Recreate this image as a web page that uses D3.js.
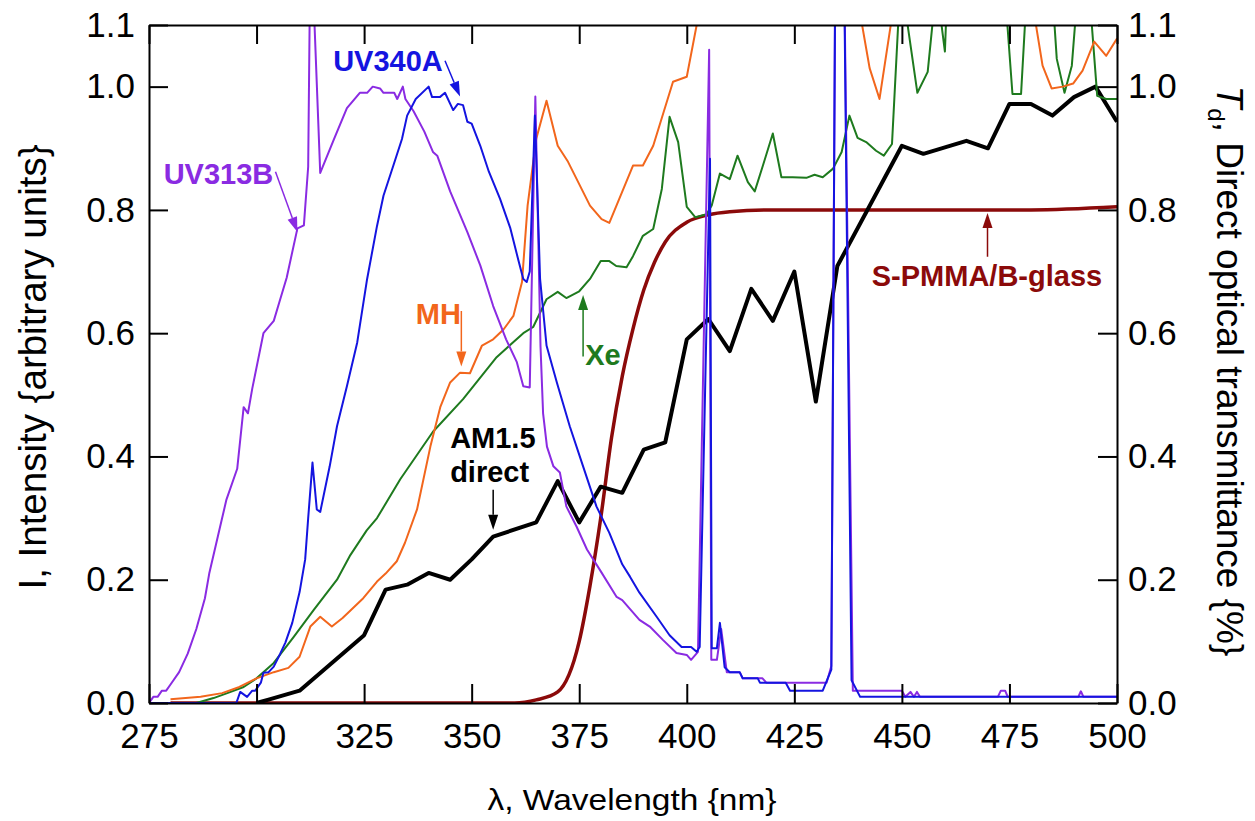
<!DOCTYPE html>
<head>
    <meta charset="utf-8">
    <script src="https://d3js.org/d3.v7.min.js"></script>
    <style>
        body { margin: 0; background: #fff; }
        text { font-family: "Liberation Sans", Arial, sans-serif; }
    </style>
</head>

<body>
    <script>
        ////////////// Data (wavelength nm, value) //////////////

        const uv313b = [[275,0],[276,0.01],[277,0.01],[278,0.02],[279,0.02],[280,0.03],[282,0.05],[284,0.08],
            [286,0.12],[288,0.17],[289,0.21],[291,0.27],[292,0.30],[293,0.33],[295.5,0.38],[297,0.48],[298,0.47],
            [299,0.51],[301.6,0.60],[304,0.62],[305.5,0.655],[307,0.69],[309.5,0.77],[311,0.775],[312,0.87],
            [312.4,1.15],[313.2,1.15],[314.8,0.86],[318,0.915],[321,0.965],[324,0.99],[325.7,0.99],[327,1.0],
            [328.7,0.997],[329.5,0.99],[332,0.99],[332.7,0.98],[334,1.0],[334.6,0.98],[336.5,0.96],[339,0.927],
            [341,0.894],[342,0.888],[345,0.83],[349,0.764],[352,0.71],[355,0.644],[358,0.59],[360.5,0.553],
            [362,0.514],[363.5,0.512],[364.8,0.984],[366,0.579],[366.6,0.47],[367.5,0.416],[369,0.384],
            [370.5,0.374],[372,0.319],[374.4,0.286],[376.8,0.249],[379.8,0.216],[383.7,0.172],[385,0.167],
            [389,0.135],[391.4,0.124],[394.5,0.102],[397.6,0.081],[400,0.078],[401,0.07],[402.6,0.083],
            [405.2,1.06],[405.7,0.07],[407,0.07],[408,0.12],[409.3,0.05],[412.3,0.05],[413,0.04],[417.6,0.04],
            [418.5,0.033],[432.5,0.033],[433.6,0.06],[434.6,1.3],[436.4,1.3],[438.6,0.02],[450,0.02],[450.8,0.01],
            [452,0.018],[452.8,0.01],[453.5,0.018],[454.2,0.01],[472.3,0.01],[473,0.02],[474,0.02],[474.6,0.01],
            [491,0.01],[491.6,0.019],[492.2,0.01],[500,0.01]]

        const uv340a = [[275,0],[295.3,0],[296.2,0.018],[297.8,0.01],[299,0.02],[299.7,0.02],[301,0.033],
            [301.6,0.049],[302.8,0.05],[304,0.059],[305.5,0.08],[306.7,0.098],[308.3,0.13],[310,0.18],[311.3,0.233],
            [312,0.30],[313,0.39],[314,0.314],[314.8,0.31],[317,0.384],[318.7,0.449],[321,0.514],[323.4,0.585],
            [325.7,0.688],[328,0.774],[329.5,0.823],[331.8,0.872],[333.8,0.915],[335,0.953],[337,0.98],[340,1.0],
            [340.8,0.983],[342.6,0.983],[343.8,0.99],[345.7,0.962],[346.8,0.972],[348,0.97],[349,0.943],[350,0.94],
            [352,0.904],[354,0.862],[356.6,0.818],[359,0.77],[360.8,0.72],[362,0.688],[362.8,0.683],[363.5,0.70],
            [364.7,0.953],[365.9,0.688],[367.4,0.58],[369.8,0.52],[372.8,0.449],[375.9,0.384],[379,0.319],
            [382,0.276],[385,0.225],[386.8,0.205],[389,0.179],[393,0.14],[396,0.11],[398.8,0.091],[401,0.091],
            [402.3,0.083],[403,0.091],[405.4,0.883],[405.8,0.089],[407,0.089],[407.7,0.13],[408.8,0.058],[410,0.05],
            [412.3,0.05],[413,0.04],[416.5,0.04],[417,0.033],[423,0.033],[424,0.02],[431.6,0.02],[433.6,0.054],
            [434.6,1.3],[436.4,1.3],[438.3,0.037],[440.3,0.01],[500,0.01]]

        const mh = [[280,0.006],[287,0.01],[292,0.016],[296,0.026],[300,0.04],[304,0.05],[307.4,0.057],[310,0.075],
            [312.5,0.124],[314.8,0.14],[317.5,0.124],[320,0.138],[324.8,0.17],[328,0.197],[330,0.21],[332.6,0.23],
            [334.5,0.26],[337.3,0.314],[340.4,0.416],[342.7,0.48],[345,0.52],[347.3,0.536],[349.6,0.535],
            [352.4,0.58],[355,0.59],[357.4,0.606],[359.7,0.628],[361.7,0.683],[363,0.807],[365,0.915],[367.4,0.977],
            [370,0.904],[372.4,0.878],[377.5,0.807],[380.2,0.785],[382,0.779],[387.5,0.872],[389.8,0.872],
            [392.2,0.904],[396.8,1.008],[400,1.016],[402.3,1.1],[404,1.3],[410,1.4],[430,1.5],[439.5,1.15],
            [442.5,1.03],[444.8,0.98],[448.5,1.15],[460,1.4],[475,1.3],[480,1.15],[482.7,1.034],[484.8,0.997],
            [487.4,1.0],[489.8,1.005],[492,1.026],[494.7,1.073],[497.5,1.05],[500,1.078]]

        const xe = [[286,0],[290,0.008],[293.2,0.016],[297,0.026],[300,0.04],[304,0.065],[308.6,0.107],
            [313.3,0.151],[318.7,0.2],[321.8,0.24],[325.6,0.28],[328,0.3],[333.4,0.363],[341,0.44],[348,0.493],
            [355.8,0.561],[362,0.6],[364.3,0.61],[367.4,0.655],[370,0.667],[372,0.657],[375,0.668],[377.5,0.688],
            [380,0.717],[382,0.717],[383.6,0.709],[386,0.707],[387.5,0.725],[389.8,0.758],[392.2,0.769],
            [394.2,0.834],[396,0.951],[398,0.91],[400,0.805],[402,0.788],[404.6,0.793],[405.8,0.807],[407.7,0.859],
            [410,0.85],[411.8,0.888],[414.2,0.845],[415.8,0.83],[417.7,0.872],[420,0.924],[422,0.853],[424.6,0.853],
            [427.8,0.852],[429.7,0.857],[431.6,0.853],[434,0.867],[436,0.894],[437.8,0.953],[439.7,0.917],
            [441.7,0.91],[444,0.896],[445.8,0.888],[447.7,0.907],[449.5,1.15],[450.3,1.15],[453.6,0.99],
            [456,1.024],[457.8,1.15],[458.3,1.15],[460,1.057],[460.5,1.15],[467,1.4],[474,1.15],[475.7,0.988],
            [477.7,0.988],[479,1.15],[482,1.4],[485,1.15],[486,1.045],[487.8,0.99],[489.5,1.034],[490.8,1.15],
            [492,1.3],[493.6,1.15],[495.4,0.985],[497.5,0.98],[500,0.98]]

        const am15 = [[300,0],[303,0.006],[310,0.02],[325,0.11],[330,0.184],[335,0.192],[340,0.211],[345,0.2],
            [350,0.233],[355,0.27],[365,0.293],[370,0.36],[375,0.293],[380,0.351],[385,0.341],[390,0.411],
            [395,0.423],[400,0.59],[405,0.623],[410,0.571],[415,0.672],[420,0.62],[425,0.70],[430,0.489],
            [435,0.709],[450,0.904],[455,0.891],[465,0.912],[470,0.9],[475,0.972],[480,0.972],[485,0.953],
            [490,0.983],[495,1.0],[500,0.943]]

        const spmma = [[280,0],[360,0],[365,0.005],[370,0.018],[375,0.1],[377.5,0.19],[380,0.3],[382.5,0.43],
            [385,0.53],[387.5,0.607],[390,0.67],[392.5,0.715],[395,0.748],[400,0.78],[405,0.792],[410,0.797],
            [420,0.8],[480,0.8],[500,0.805]]

        const xTicks = [275, 300, 325, 350, 375, 400, 425, 450, 475, 500]
        const yTicks = [0, 0.2, 0.4, 0.6, 0.8, 1.0, 1.1]

        // label text, anchor (nm, value), arrow from -> to (nm, value)
        const notes = [
            {text: ["UV340A"], color: "#1414e0", at: [317.8, 1.026], from: [343.8, 1.042], to: [347.3, 0.984]},
            {text: ["UV313B"], color: "#8a2be2", at: [278.4, 0.842], from: [304.4, 0.862], to: [309.5, 0.764]},
            {text: ["MH"], color: "#f2661c", at: [337, 0.615], from: [347.6, 0.636], to: [347.6, 0.546]},
            {text: ["Xe"], color: "#1e7a1e", at: [376.4, 0.548], from: [375.9, 0.562], to: [375.9, 0.662]},
            {text: ["AM1.5", "direct"], color: "#000", at: [345, 0.413], from: [355, 0.346], to: [355, 0.281]},
            {text: ["S-PMMA/B-glass"], color: "#8b0a0a", at: [443, 0.676], from: [469.9, 0.724], to: [469.9, 0.795]}
        ]

        ////////////// SVG //////////////

        const width = 1255, height = 821
        const margin = {left: 149, right: 138, top: 25, bottom: 118}

        const svg = d3.select("body").append("svg")
            .attr("width", width)
            .attr("height", height)

        const x = d3.scaleLinear().domain([275, 500]).range([margin.left, width - margin.right])
        const y = d3.scaleLinear().domain([0, 1.1]).range([height - margin.bottom, margin.top])

        svg.append("clipPath").attr("id", "plot-clip")
            .append("rect")
            .attr("x", margin.left).attr("y", margin.top)
            .attr("width", x(500) - x(275)).attr("height", y(0) - y(1.1))

        ////////////// Lines //////////////

        const line = d3.line().x(d => x(d[0])).y(d => y(d[1]))
        const smooth = d3.line().x(d => x(d[0])).y(d => y(d[1])).curve(d3.curveMonotoneX)

        const series = [
            {data: spmma, color: "#8b0a0a", w: 3.5, gen: smooth},
            {data: am15, color: "#000", w: 4, gen: line},
            {data: xe, color: "#1e7a1e", w: 2, gen: line},
            {data: mh, color: "#f2661c", w: 2, gen: line},
            {data: uv313b, color: "#8a2be2", w: 2, gen: line},
            {data: uv340a, color: "#1414e0", w: 2, gen: line}
        ]

        const lines = svg.append("g").attr("clip-path", "url(#plot-clip)")
        series.forEach(s => {
            lines.append("path")
                .attr("d", s.gen(s.data))
                .attr("fill", "none")
                .attr("stroke", s.color)
                .attr("stroke-width", s.w)
                .attr("stroke-linejoin", "round")
        })

        ////////////// Axes //////////////

        const fmt = d3.format(".1f")
        const styleAxis = g => {
            g.selectAll(".domain").attr("stroke-width", 2)
            g.selectAll(".tick line").attr("stroke-width", 2)
            g.selectAll("text").attr("font-size", 35).attr("font-family", "Liberation Sans, Arial, sans-serif").attr("fill", "#000")
        }

        svg.append("g")
            .attr("transform", `translate(0,${y(0)})`)
            .call(d3.axisBottom(x).tickValues(xTicks).tickSize(-19).tickSizeOuter(0).tickPadding(20))
            .call(styleAxis)

        svg.append("g")
            .attr("transform", `translate(0,${y(1.1)})`)
            .call(d3.axisTop(x).tickValues(xTicks).tickSize(-19).tickSizeOuter(0).tickFormat(""))
            .call(styleAxis)

        svg.append("g")
            .attr("transform", `translate(${x(275)},0)`)
            .call(d3.axisLeft(y).tickValues(yTicks).tickSize(-19).tickSizeOuter(0).tickPadding(14).tickFormat(fmt))
            .call(styleAxis)

        svg.append("g")
            .attr("transform", `translate(${x(500)},0)`)
            .call(d3.axisRight(y).tickValues(yTicks).tickSize(-19).tickSizeOuter(0).tickPadding(11).tickFormat(fmt))
            .call(styleAxis)

        ////////////// Axis titles //////////////

        svg.append("text")
            .attr("x", 632).attr("y", 810)
            .attr("text-anchor", "middle")
            .attr("font-size", 30)
            .attr("textLength", 289)
            .attr("lengthAdjust", "spacingAndGlyphs")
            .text("λ, Wavelength {nm}")

        svg.append("text")
            .attr("transform", "translate(46,367) rotate(-90)")
            .attr("text-anchor", "middle")
            .attr("font-size", 38.5)
            .text("I, Intensity {arbitrary units}")

        const rt = svg.append("text")
            .attr("transform", "translate(1217,371) rotate(90)")
            .attr("text-anchor", "middle")
            .attr("font-size", 37)
        rt.append("tspan").attr("font-style", "italic").text("T")
        rt.append("tspan").attr("font-size", 24).attr("dy", 9).text("d")
        rt.append("tspan").attr("dy", -9).text(", Direct optical transmittance {%}")

        ////////////// Annotations //////////////

        const ann = svg.append("g")
        notes.forEach(n => {
            n.text.forEach((t, i) => {
                ann.append("text")
                    .attr("x", x(n.at[0]))
                    .attr("y", y(n.at[1]) + i * 34)
                    .attr("font-size", 29)
                    .attr("font-weight", "bold")
                    .attr("fill", n.color)
                    .text(t)
            })
            const x1 = x(n.from[0]), y1 = y(n.from[1]), x2 = x(n.to[0]), y2 = y(n.to[1])
            const a = Math.atan2(y2 - y1, x2 - x1), L = 15, hw = 5
            const bx = x2 - L * Math.cos(a), by = y2 - L * Math.sin(a)
            ann.append("line")
                .attr("x1", x1).attr("y1", y1).attr("x2", bx).attr("y2", by)
                .attr("stroke", n.color).attr("stroke-width", 1.5)
            ann.append("path")
                .attr("d", `M${x2},${y2}L${bx + hw * Math.sin(a)},${by - hw * Math.cos(a)}L${bx - hw * Math.sin(a)},${by + hw * Math.cos(a)}Z`)
                .attr("fill", n.color)
        })
    </script>
</body>
